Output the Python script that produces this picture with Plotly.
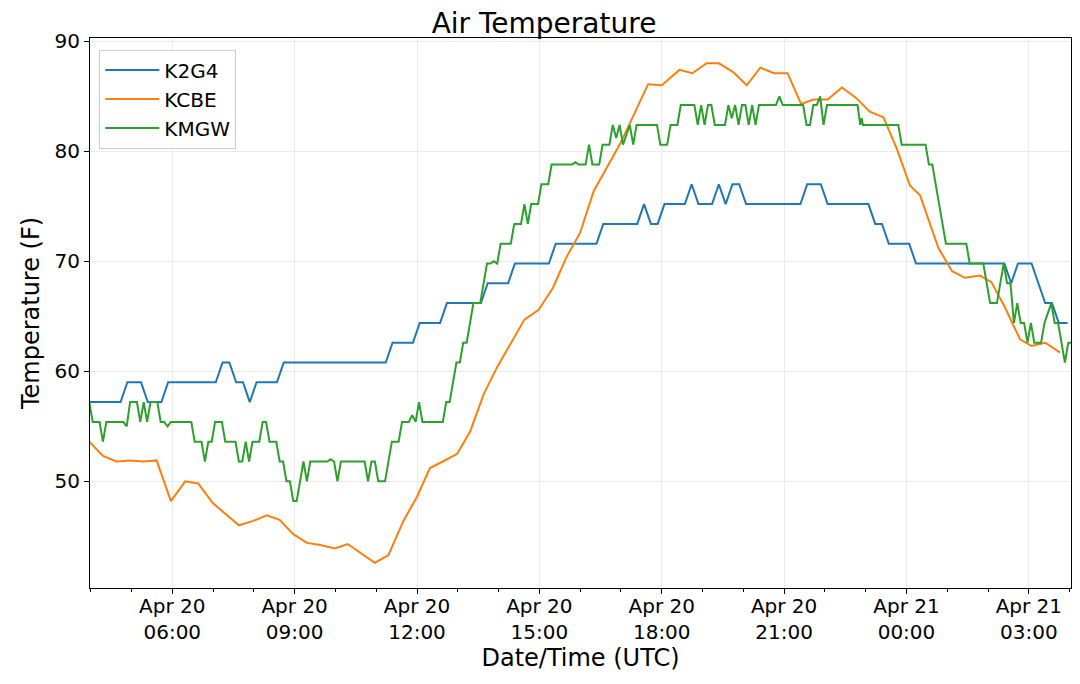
import pandas as pd
import plotly.graph_objects as go

# station readings (day of April + UTC time), temperature in F
k2g4_time = [
    "20 03:59", "20 04:44", "20 04:54", "20 05:14", "20 05:24", "20 05:44", "20 05:54",
    "20 07:04", "20 07:14", "20 07:24", "20 07:34", "20 07:44", "20 07:54", "20 08:04",
    "20 08:34", "20 08:44", "20 11:14", "20 11:24", "20 11:54", "20 12:04", "20 12:34",
    "20 12:44", "20 13:34", "20 13:44", "20 14:14", "20 14:24", "20 15:14", "20 15:24",
    "20 16:24", "20 16:34", "20 17:24", "20 17:34", "20 17:44", "20 17:54", "20 18:04",
    "20 18:34", "20 18:44", "20 18:54", "20 19:14", "20 19:24", "20 19:34", "20 19:44",
    "20 19:54", "20 20:04", "20 21:24", "20 21:34", "20 21:54", "20 22:04", "20 23:04",
    "20 23:14", "20 23:24", "20 23:34", "21 00:04", "21 00:14", "21 02:24", "21 02:34",
    "21 02:44", "21 03:04", "21 03:14", "21 03:24", "21 03:34", "21 03:44", "21 03:57",
]
k2g4_temp = [
    57.2, 57.2, 59.0, 59.0, 57.2, 57.2, 59.0,
    59.0, 60.8, 60.8, 59.0, 59.0, 57.2, 59.0,
    59.0, 60.8, 60.8, 62.6, 62.6, 64.4, 64.4,
    66.2, 66.2, 68.0, 68.0, 69.8, 69.8, 71.6,
    71.6, 73.4, 73.4, 75.2, 73.4, 73.4, 75.2,
    75.2, 77.0, 75.2, 75.2, 77.0, 75.2, 77.0,
    77.0, 75.2, 75.2, 77.0, 77.0, 75.2, 75.2,
    73.4, 73.4, 71.6, 71.6, 69.8, 69.8, 68.0,
    69.8, 69.8, 68.0, 66.2, 66.2, 64.4, 64.4,
]

kcbe_time = [
    "20 03:58", "20 04:18", "20 04:38", "20 04:58", "20 05:17", "20 05:37", "20 05:58",
    "20 06:19", "20 06:38", "20 07:00", "20 07:38", "20 07:59", "20 08:19", "20 08:38",
    "20 08:58", "20 09:18", "20 09:38", "20 09:59", "20 10:18", "20 10:37", "20 10:58",
    "20 11:18", "20 11:40", "20 12:00", "20 12:19", "20 12:38", "20 12:59", "20 13:18",
    "20 13:38", "20 13:58", "20 14:20", "20 14:38", "20 14:59", "20 15:20", "20 15:40",
    "20 16:00", "20 16:20", "20 16:39", "20 16:59", "20 17:40", "20 18:00", "20 18:26",
    "20 18:45", "20 19:06", "20 19:24", "20 19:45", "20 20:05", "20 20:25", "20 20:45",
    "20 21:05", "20 21:25", "20 21:43", "20 22:04", "20 22:25", "20 22:45", "20 23:06",
    "20 23:26", "20 23:46", "21 00:05", "21 00:20", "21 00:47", "21 01:07", "21 01:26",
    "21 01:48", "21 02:05", "21 02:25", "21 02:47", "21 03:04", "21 03:24", "21 03:46",
]
kcbe_temp = [
    53.6, 52.3, 51.8, 51.9, 51.8, 51.9, 48.2,
    50.0, 49.8, 48.0, 46.0, 46.4, 46.9, 46.5,
    45.2, 44.4, 44.2, 43.9, 44.3, 43.5, 42.6,
    43.3, 46.4, 48.6, 51.2, 51.8, 52.5, 54.5,
    57.9, 60.4, 62.7, 64.7, 65.6, 67.6, 70.4,
    72.6, 76.4, 78.5, 80.7, 86.1, 86.0, 87.4,
    87.1, 88.0, 88.0, 87.2, 86.0, 87.6, 87.1,
    87.1, 84.3, 84.7, 84.7, 85.8, 84.9, 83.6,
    83.1, 80.2, 76.9, 76.0, 71.2, 69.1, 68.5,
    68.7, 68.1, 65.8, 62.9, 62.3, 62.6, 61.7,
]

kmgw_time = [
    "20 03:58", "20 04:03", "20 04:13", "20 04:18", "20 04:23", "20 04:48", "20 04:53",
    "20 04:58", "20 05:08", "20 05:13", "20 05:18", "20 05:23", "20 05:28", "20 05:38",
    "20 05:43", "20 05:48", "20 05:53", "20 05:58", "20 06:28", "20 06:33", "20 06:43",
    "20 06:48", "20 06:53", "20 06:58", "20 07:03", "20 07:13", "20 07:18", "20 07:33",
    "20 07:38", "20 07:43", "20 07:48", "20 07:53", "20 07:58", "20 08:08", "20 08:13",
    "20 08:18", "20 08:23", "20 08:33", "20 08:38", "20 08:43", "20 08:48", "20 08:53",
    "20 08:58", "20 09:03", "20 09:13", "20 09:18", "20 09:23", "20 09:48", "20 09:53",
    "20 09:58", "20 10:03", "20 10:08", "20 10:43", "20 10:48", "20 10:53", "20 10:58",
    "20 11:03", "20 11:13", "20 11:23", "20 11:33", "20 11:38", "20 11:48", "20 11:53",
    "20 11:58", "20 12:03", "20 12:08", "20 12:38", "20 12:43", "20 12:48", "20 12:58",
    "20 13:03", "20 13:08", "20 13:13", "20 13:23", "20 13:33", "20 13:43", "20 13:48",
    "20 13:53", "20 13:58", "20 14:03", "20 14:18", "20 14:23", "20 14:33", "20 14:38",
    "20 14:43", "20 14:48", "20 14:58", "20 15:03", "20 15:13", "20 15:18", "20 15:48",
    "20 15:53", "20 15:58", "20 16:08", "20 16:13", "20 16:18", "20 16:28", "20 16:33",
    "20 16:43", "20 16:48", "20 16:53", "20 16:58", "20 17:03", "20 17:08", "20 17:13",
    "20 17:18", "20 17:23", "20 17:53", "20 17:58", "20 18:08", "20 18:13", "20 18:23",
    "20 18:28", "20 18:48", "20 18:53", "20 18:58", "20 19:03", "20 19:08", "20 19:13",
    "20 19:18", "20 19:33", "20 19:38", "20 19:43", "20 19:48", "20 19:53", "20 19:58",
    "20 20:03", "20 20:08", "20 20:13", "20 20:18", "20 20:23", "20 20:48", "20 20:53",
    "20 20:58", "20 21:28", "20 21:33", "20 21:38", "20 21:43", "20 21:48", "20 21:53",
    "20 21:58", "20 22:03", "20 22:48", "20 22:52", "20 22:54", "20 22:56", "20 23:48",
    "20 23:53", "21 00:28", "21 00:33", "21 00:38", "21 00:43", "21 00:48", "21 00:53",
    "21 00:58", "21 01:28", "21 01:33", "21 01:53", "21 02:03", "21 02:13", "21 02:23",
    "21 02:28", "21 02:33", "21 02:38", "21 02:43", "21 02:48", "21 02:53", "21 02:58",
    "21 03:03", "21 03:08", "21 03:18", "21 03:23", "21 03:33", "21 03:38", "21 03:43",
    "21 03:48", "21 03:53", "21 03:58", "21 04:02",
]
kmgw_temp = [
    57.2, 55.4, 55.4, 53.6, 55.4, 55.4, 55.0,
    57.2, 57.2, 55.4, 57.2, 55.4, 57.2, 57.2,
    55.4, 55.4, 55.0, 55.4, 55.4, 53.6, 53.6,
    51.8, 53.6, 53.6, 55.4, 55.4, 53.6, 53.6,
    51.8, 51.8, 53.6, 51.8, 53.6, 53.6, 55.4,
    55.4, 53.6, 53.6, 51.8, 51.8, 50.0, 50.0,
    48.2, 48.2, 51.8, 50.0, 51.8, 51.8, 52.0,
    51.8, 50.0, 51.8, 51.8, 50.0, 51.8, 51.8,
    50.0, 50.0, 53.6, 53.6, 55.4, 55.4, 56.0,
    55.4, 57.2, 55.4, 55.4, 57.2, 57.2, 60.8,
    60.8, 62.6, 62.6, 66.2, 66.2, 69.8, 69.8,
    70.0, 69.8, 71.6, 71.6, 73.4, 73.4, 75.2,
    73.4, 75.2, 75.2, 77.0, 77.0, 78.8, 78.8,
    79.0, 78.8, 78.8, 80.6, 78.8, 78.8, 80.6,
    80.6, 82.4, 81.2, 82.4, 80.6, 81.5, 82.4,
    80.6, 82.4, 82.4, 80.6, 80.6, 82.4, 82.4,
    84.2, 84.2, 82.4, 84.2, 82.4, 84.2, 84.2,
    82.4, 82.4, 84.2, 83.0, 84.2, 82.4, 84.2,
    84.2, 82.4, 84.2, 82.4, 84.2, 84.2, 85.0,
    84.2, 84.2, 82.4, 82.4, 84.2, 84.2, 85.0,
    82.4, 84.2, 84.2, 82.4, 83.0, 82.4, 82.4,
    80.6, 80.6, 78.8, 78.8, 77.0, 75.2, 73.4,
    71.6, 71.6, 69.8, 69.8, 66.2, 66.2, 69.8,
    68.0, 68.0, 64.4, 66.2, 64.4, 64.4, 62.6,
    64.4, 62.6, 62.6, 64.4, 66.2, 64.4, 64.4,
    62.6, 60.8, 62.6, 62.6,
]

stations = [
    ("K2G4", k2g4_time, k2g4_temp, "#1f77b4"),
    ("KCBE", kcbe_time, kcbe_temp, "#ff7f0e"),
    ("KMGW", kmgw_time, kmgw_temp, "#2ca02c"),
]

font = "DejaVu Sans"

fig = go.Figure()
for name, t, v, color in stations:
    fig.add_trace(go.Scatter(
        x=pd.to_datetime(["2019-04-" + s for s in t]),
        y=v,
        mode="lines",
        name=name,
        line=dict(color=color, width=2),
    ))

axis_style = dict(
    showgrid=True, gridcolor="#ebebeb", gridwidth=1,
    showline=True, linecolor="black", linewidth=1, mirror=True,
    ticks="outside", ticklen=5, tickcolor="black",
    tickfont=dict(family=font, size=20, color="black"),
    zeroline=False,
)

# page body adds an 8px offset, so the figure is a bit smaller than the window
fig.update_layout(
    width=1072, height=676,
    paper_bgcolor="white", plot_bgcolor="white",
    margin=dict(l=82, r=9, t=30, b=96, autoexpand=False),
    font=dict(family=font, color="black"),
    title=dict(text="Air Temperature", x=0.5, xanchor="center",
               y=1 - 15 / 676, yref="container", yanchor="middle",
               font=dict(family=font, size=28, color="black")),
    legend=dict(x=0.0095, y=0.979, xanchor="left", yanchor="top",
                bgcolor="white", bordercolor="#cccccc", borderwidth=1,
                font=dict(family=font, size=20, color="black"),
                itemwidth=54),
    showlegend=True,
)
fig.update_xaxes(
    type="date",
    range=["2019-04-20 03:59", "2019-04-21 04:02"],
    tick0="2019-04-20 00:00", dtick=3 * 3600000,
    tickformat="%b %d<br>%H:%M",
    ticklabelstandoff=-5,
    minor=dict(tick0="2019-04-20 00:00", dtick=3600000, ticks="outside",
               ticklen=3, tickcolor="black", showgrid=False),
    title=dict(text="Date/Time (UTC)", standoff=4,
               font=dict(family=font, size=24, color="black")),
    **axis_style,
)
fig.update_yaxes(
    range=[40.3, 90.3],
    tick0=50, dtick=10,
    title=dict(text="Temperature (F)", standoff=8,
               font=dict(family=font, size=24, color="black")),
    **axis_style,
)

fig.write_html("out.html")
